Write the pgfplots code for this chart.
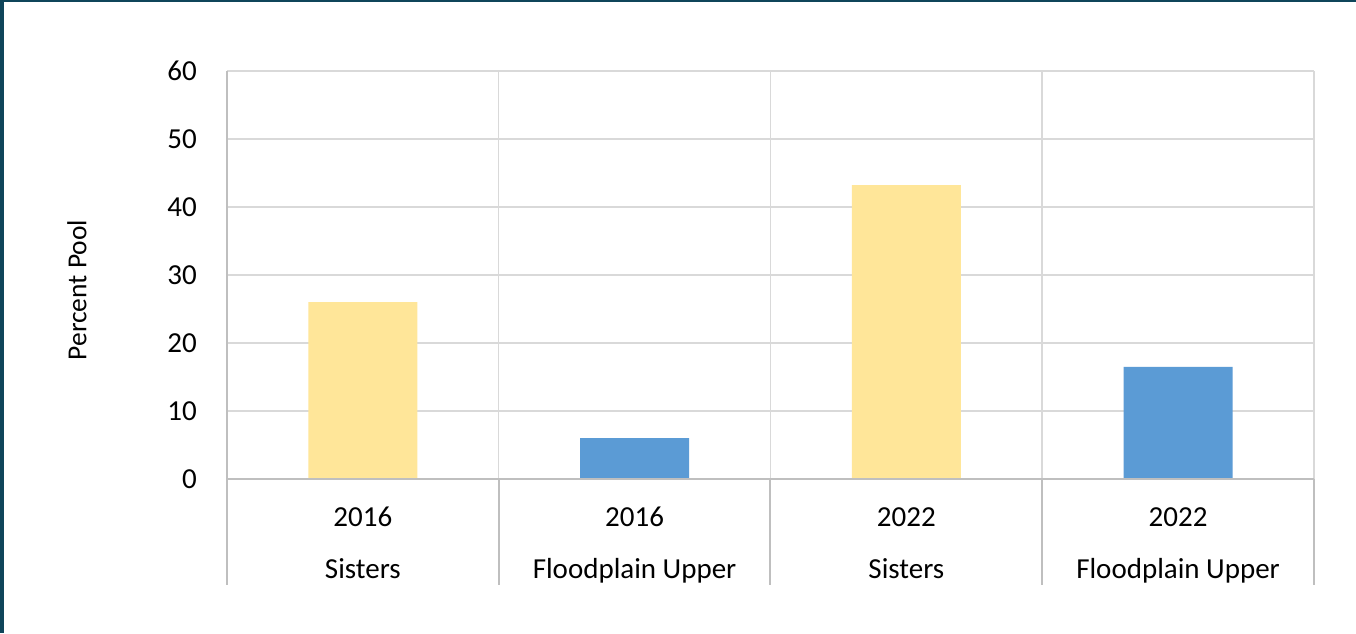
\documentclass[border=0pt]{standalone}
\usepackage{pgfplots}
\pgfplotsset{compat=1.18}
\usepackage{fontspec}
\setmainfont{Carlito}
\definecolor{framec}{HTML}{0F455A}
\definecolor{gridc}{HTML}{D9D9D9}
\definecolor{axc}{HTML}{BFBFBF}
\definecolor{ybarc}{HTML}{FFE699}
\definecolor{bbarc}{HTML}{5B9BD5}
\begin{document}
\begin{tikzpicture}[x=1pt,y=1pt]
\useasboundingbox (0,0) rectangle (1356,633);
\fill[white] (0,0) rectangle (1356,633);
\fill[framec] (0,0) rectangle (4,633);
\fill[framec] (0,631) rectangle (1356,633);
\begin{axis}[
  at={(227pt,154pt)}, anchor=south west,
  scale only axis, width=1087pt, height=408pt,
  clip=false,
  xmin=-0.5, xmax=3.5, ymin=0, ymax=60,
  ytick={0,10,...,60},
  xtick={0,1,2,3},
  xticklabels={{2016\\Sisters},{2016\\Floodplain Upper},{2022\\Sisters},{2022\\Floodplain Upper}},
  major tick length=0pt,
  axis line style={draw=none},
  ymajorgrids, grid style={gridc, line width=1.5pt},
  /pgf/number format/assume math mode=true,
  yticklabel style={font=\fontsize{29}{34}\selectfont, anchor=east, inner sep=0pt, xshift=-30pt, text=black},
  xticklabel style={font=\fontsize{29}{52}\selectfont, align=center, anchor=north, inner sep=0pt, yshift=-28pt, text=black},
  ylabel={Percent Pool},
  ylabel style={font=\fontsize{27.5}{32}\selectfont, at={(axis description cs:-0.138,0.463)}, anchor=center, rotate=0},
  ybar, bar width=109pt, bar shift=0pt,
]
\addplot[draw=none, fill=ybarc] coordinates {(0,26.0) (2,43.2)};
\addplot[draw=none, fill=bbarc] coordinates {(1,6.0) (3,16.5)};
\draw[gridc, line width=1.5pt] (axis cs:0.5,60) -- (axis cs:0.5,0);
\draw[gridc, line width=1.5pt] (axis cs:1.5,60) -- (axis cs:1.5,0);
\draw[gridc, line width=1.5pt] (axis cs:2.5,60) -- (axis cs:2.5,0);
\draw[gridc, line width=1.5pt] (axis cs:3.5,60) -- (axis cs:3.5,0);
\draw[axc, line width=2pt] (axis cs:-0.5,60) -- (axis cs:-0.5,0);
\draw[axc, line width=2pt] (axis cs:-0.5,0) -- (axis cs:3.5,0);
\draw[axc, line width=2pt] (axis cs:-0.5,0) -- ++(0pt,-106pt);
\draw[axc, line width=2pt] (axis cs:0.5,0) -- ++(0pt,-106pt);
\draw[axc, line width=2pt] (axis cs:1.5,0) -- ++(0pt,-106pt);
\draw[axc, line width=2pt] (axis cs:2.5,0) -- ++(0pt,-106pt);
\draw[axc, line width=2pt] (axis cs:3.5,0) -- ++(0pt,-106pt);
\end{axis}
\end{tikzpicture}
\end{document}
